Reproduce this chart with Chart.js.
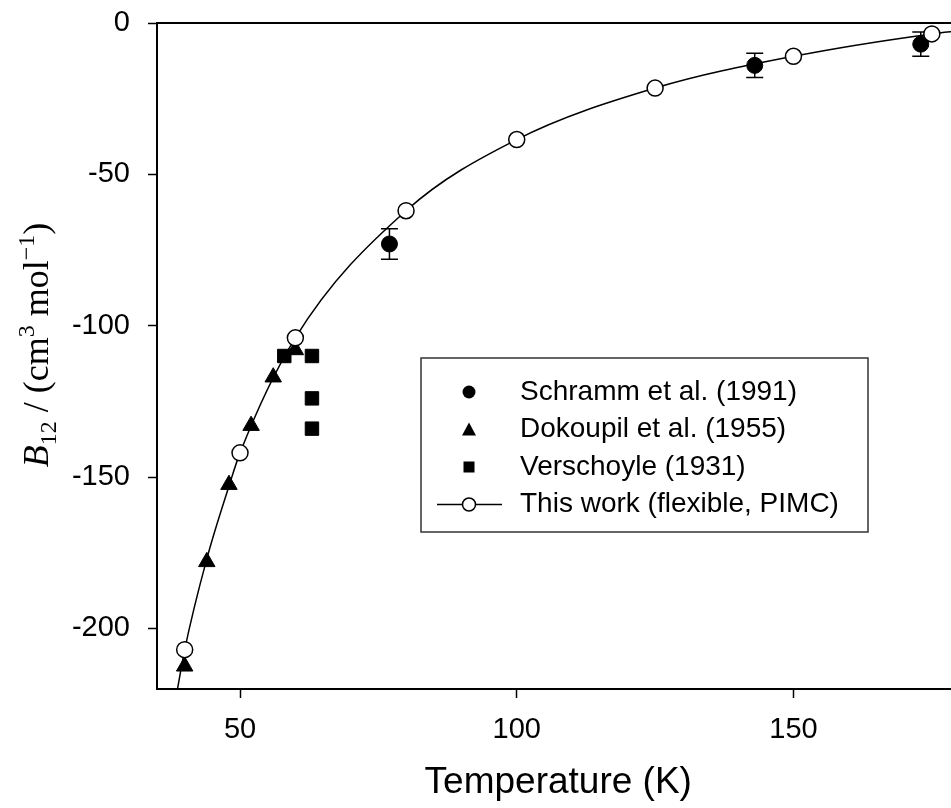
<!DOCTYPE html>
<html>
<head>
<meta charset="utf-8">
<script src="https://cdn.jsdelivr.net/npm/chart.js@4.4.1/dist/chart.umd.min.js"></script>
<style>
  html, body { margin: 0; padding: 0; background: #fff; overflow: hidden; }
  #wrap { width: 970px; height: 808px; }
</style>
</head>
<body>
<div id="wrap"><canvas id="chart" width="970" height="808"></canvas></div>
<script>
// Temperature in K, B12 in cm3/mol
const schrammT = [77, 143, 173];
const schrammB = [-73, -14, -7];
const schrammErr = [5, 4, 4];

const dokoupilT = [40, 44, 48, 52, 56, 60];
const dokoupilB = [-212.5, -178, -152.5, -133, -117, -108];

const verschoyleT = [58, 63, 63, 63];
const verschoyleB = [-110, -110, -124, -134];

const thisWorkT = [40, 50, 60, 80, 100, 125, 150, 175];
const thisWorkB = [-207, -142, -104, -62, -38.5, -21.5, -11, -3.6];

// fitted curve
const curveT = [38.7, 40, 44, 48, 50, 60, 80, 100, 125, 150, 175, 180];
const curveB = [-220, -207, -177, -153, -142, -104, -62, -38.5, -21.5, -11, -3.6, -2.6];

const xTicks = [50, 100, 150];
const yTicks = [0, -50, -100, -150, -200];

const legendLabels = ['Schramm et al. (1991)', 'Dokoupil et al. (1955)', 'Verschoyle (1931)', 'This work (flexible, PIMC)'];

const sans = '"Liberation Sans", Arial, sans-serif';
const serif = '"Liberation Serif", "Times New Roman", serif';

function toPoints(xs, ys) {
  return xs.map((x, i) => ({x: x, y: ys[i]}));
}

// error bars for the Schramm points
const errorBars = {
  id: 'errorBars',
  beforeDatasetsDraw(chart) {
    const ctx = chart.ctx;
    const xs = chart.scales.x, ys = chart.scales.y;
    ctx.save();
    ctx.strokeStyle = '#000';
    ctx.lineWidth = 1.5;
    schrammT.forEach((t, i) => {
      const px = xs.getPixelForValue(t);
      const top = ys.getPixelForValue(schrammB[i] + schrammErr[i]);
      const bot = ys.getPixelForValue(schrammB[i] - schrammErr[i]);
      ctx.beginPath();
      ctx.moveTo(px, top); ctx.lineTo(px, bot);
      ctx.moveTo(px - 8.5, top); ctx.lineTo(px + 8.5, top);
      ctx.moveTo(px - 8.5, bot); ctx.lineTo(px + 8.5, bot);
      ctx.stroke();
    });
    ctx.restore();
  }
};

// top and right frame lines
const frame = {
  id: 'frame',
  afterDraw(chart) {
    const {ctx, chartArea} = chart;
    ctx.save();
    ctx.strokeStyle = '#000';
    ctx.lineWidth = 2;
    ctx.beginPath();
    ctx.moveTo(chartArea.left - 1, chartArea.top);
    ctx.lineTo(chartArea.right, chartArea.top);
    ctx.lineTo(chartArea.right, chartArea.bottom);
    ctx.stroke();
    ctx.restore();
  }
};

// y axis title with italic, subscript and superscripts
const yTitle = {
  id: 'yTitle',
  afterDraw(chart) {
    const ctx = chart.ctx;
    const parts = [
      {t: 'B', f: 'italic 36px ' + serif, dy: 0},
      {t: '12', f: '24px ' + serif, dy: 8},
      {t: ' / (cm', f: '36px ' + serif, dy: 0},
      {t: '3', f: '24px ' + serif, dy: -14},
      {t: ' mol', f: '36px ' + serif, dy: 0},
      {t: '\u22121', f: '24px ' + serif, dy: -14},
      {t: ')', f: '36px ' + serif, dy: 0}
    ];
    ctx.save();
    ctx.fillStyle = '#000';
    ctx.textBaseline = 'alphabetic';
    let total = 0;
    parts.forEach(p => { ctx.font = p.f; p.w = ctx.measureText(p.t).width; total += p.w; });
    ctx.translate(48, 345);
    ctx.rotate(-Math.PI / 2);
    let x = -total / 2;
    parts.forEach(p => {
      ctx.font = p.f;
      ctx.fillText(p.t, x, p.dy);
      x += p.w;
    });
    ctx.restore();
  }
};

// boxed legend inside the plot
const boxLegend = {
  id: 'boxLegend',
  afterDraw(chart) {
    const ctx = chart.ctx;
    const rows = [392, 429.5, 467, 504.5];
    const sx = 469;
    ctx.save();
    ctx.fillStyle = '#fff';
    ctx.fillRect(421, 358, 447, 174);
    ctx.strokeStyle = '#333';
    ctx.lineWidth = 1.5;
    ctx.strokeRect(421, 358, 447, 174);

    ctx.fillStyle = '#000';
    ctx.strokeStyle = '#000';
    // filled circle
    ctx.beginPath(); ctx.arc(sx, rows[0], 6.5, 0, Math.PI * 2); ctx.fill();
    // triangle
    ctx.beginPath();
    ctx.moveTo(sx, rows[1] - 7); ctx.lineTo(sx + 7, rows[1] + 6); ctx.lineTo(sx - 7, rows[1] + 6);
    ctx.closePath(); ctx.fill();
    // square
    ctx.fillRect(sx - 5.5, rows[2] - 5.5, 11, 11);
    // line with open circle
    ctx.lineWidth = 1.5;
    ctx.beginPath(); ctx.moveTo(437, rows[3]); ctx.lineTo(502, rows[3]); ctx.stroke();
    ctx.fillStyle = '#fff';
    ctx.beginPath(); ctx.arc(sx, rows[3], 6.5, 0, Math.PI * 2); ctx.fill(); ctx.stroke();

    ctx.fillStyle = '#000';
    ctx.font = '28px ' + sans;
    ctx.textBaseline = 'middle';
    ctx.textAlign = 'left';
    legendLabels.forEach((lab, i) => ctx.fillText(lab, 520, rows[i]));
    ctx.restore();
  }
};

new Chart(document.getElementById('chart'), {
  type: 'scatter',
  data: {
    datasets: [
      {
        label: legendLabels[3],
        data: toPoints(thisWorkT, thisWorkB),
        pointStyle: 'circle',
        pointRadius: 8,
        backgroundColor: '#fff',
        borderColor: '#000',
        borderWidth: 1.5,
        showLine: false,
        order: 0
      },
      {
        label: legendLabels[0],
        data: toPoints(schrammT, schrammB),
        pointStyle: 'circle',
        pointRadius: 8,
        backgroundColor: '#000',
        borderColor: '#000',
        borderWidth: 1,
        showLine: false,
        order: 1
      },
      {
        label: legendLabels[1],
        data: toPoints(dokoupilT, dokoupilB),
        pointStyle: 'triangle',
        pointRadius: 9.5,
        backgroundColor: '#000',
        borderColor: '#000',
        borderWidth: 1,
        showLine: false,
        order: 2
      },
      {
        label: legendLabels[2],
        data: toPoints(verschoyleT, verschoyleB),
        pointStyle: 'rect',
        pointRadius: 9.5,
        backgroundColor: '#000',
        borderColor: '#000',
        borderWidth: 1,
        showLine: false,
        order: 3
      },
      {
        label: 'fit',
        data: toPoints(curveT, curveB),
        showLine: true,
        pointRadius: 0,
        borderColor: '#000',
        borderWidth: 1.5,
        cubicInterpolationMode: 'monotone',
        fill: false,
        order: 4
      }
    ]
  },
  options: {
    responsive: false,
    animation: false,
    devicePixelRatio: 1,
    layout: { padding: { left: 0, top: 23, right: 6, bottom: 0 } },
    plugins: {
      legend: { display: false },
      tooltip: { enabled: false }
    },
    scales: {
      x: {
        type: 'linear',
        position: 'bottom',
        min: 35,
        max: 180,
        afterBuildTicks: scale => { scale.ticks = xTicks.map(v => ({value: v})); },
        afterFit: scale => {
          scale.height = 119;
          scale.paddingLeft = 0;
          scale.paddingRight = 0;
        },
        ticks: {
          color: '#000',
          font: { family: sans, size: 29 },
          padding: 15,
          maxRotation: 0
        },
        grid: { drawOnChartArea: false, drawTicks: true, tickLength: 9, tickColor: '#000', tickWidth: 1.5 },
        border: { display: true, color: '#000', width: 2 },
        title: {
          display: true,
          text: 'Temperature (K)',
          color: '#000',
          font: { family: sans, size: 37 },
          padding: { top: 0, bottom: 3 }
        }
      },
      y: {
        type: 'linear',
        min: -220,
        max: 0,
        afterBuildTicks: scale => { scale.ticks = yTicks.map(v => ({value: v})); },
        afterFit: scale => {
          scale.width = 157;
          scale.paddingTop = 0;
          scale.paddingBottom = 0;
        },
        ticks: {
          color: '#000',
          font: { family: sans, size: 29 },
          padding: 18
        },
        grid: { drawOnChartArea: false, drawTicks: true, tickLength: 9, tickColor: '#000', tickWidth: 1.5 },
        border: { display: true, color: '#000', width: 2 }
      }
    }
  },
  plugins: [errorBars, frame, yTitle, boxLegend]
});
</script>
</body>
</html>
